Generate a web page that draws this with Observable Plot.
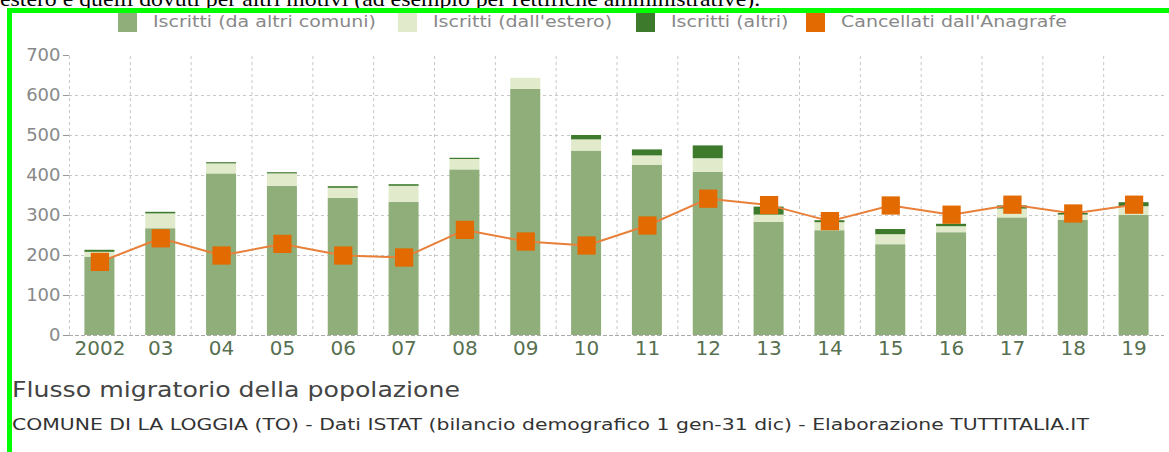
<!DOCTYPE html>
<html>
<head>
<meta charset="utf-8">
<script src="https://cdn.jsdelivr.net/npm/d3@7"></script>
<script src="https://cdn.jsdelivr.net/npm/@observablehq/plot@0.6"></script>
<style>
  html, body { margin: 0; padding: 0; background: #fff; }
  body { width: 1169px; height: 452px; overflow: hidden; position: relative; font-family: "DejaVu Sans", sans-serif; }
  #above { position: absolute; left: 0; top: -14px; font-family: "Liberation Serif", serif; font-size: 22px; color: #000; white-space: nowrap; transform: scaleX(1.08); transform-origin: left top; }
  #frame { position: absolute; left: 7px; top: 8px; width: 2000px; height: 1000px; border: 5px solid #00ff00; box-sizing: border-box; }
  #legend { position: absolute; top: 13px; left: 0; width: 1169px; height: 22px; }
  .item { position: absolute; top: 0; height: 20px; }
  .sw { position: absolute; left: 0; top: 0; width: 19px; height: 19px; }
  .lt { position: absolute; left: 35px; top: -1px; font-size: 16.5px; color: #888; white-space: nowrap; transform: scaleX(1.15); transform-origin: left center; }
  #chart { position: absolute; left: 0; top: 40px; }
  #title { position: absolute; left: 12px; top: 378px; font-size: 21px; color: #444; white-space: nowrap; transform: scaleX(1.2); transform-origin: left top; }
  #caption { position: absolute; left: 12px; top: 415px; font-size: 16.5px; color: #333; white-space: nowrap; transform: scaleX(1.235); transform-origin: left top; }
</style>
</head>
<body>
<div id="above">estero e quelli dovuti per altri motivi (ad esempio per rettifiche amministrative).</div>
<div id="frame"></div>
<div id="legend"></div>
<div id="chart"></div>
<div id="title">Flusso migratorio della popolazione</div>
<div id="caption">COMUNE DI LA LOGGIA (TO) - Dati ISTAT (bilancio demografico 1 gen-31 dic) - Elaborazione TUTTITALIA.IT</div>
<script>
// ---- data ----
const years = ["2002","03","04","05","06","07","08","09","10","11","12","13","14","15","16","17","18","19"];
const daAltriComuni = [196, 267, 404, 373, 343, 333, 414, 615, 461, 425, 408, 283, 262, 227, 257, 294, 288, 300];
const dallEstero    = [12, 37, 25, 31, 25, 40, 26, 28, 28, 24, 34, 18, 20, 25, 15, 22, 13, 22];
const altri         = [5, 4, 3, 3, 4, 4, 3, 0, 11, 15, 32, 20, 5, 13, 6, 8, 4, 10];
const cancellati    = [184, 243, 200, 229, 200, 195, 264, 235, 225, 275, 342, 326, 286, 325, 302, 327, 305, 327];
const seriesNames = ["Iscritti (da altri comuni)", "Iscritti (dall'estero)", "Iscritti (altri)", "Cancellati dall'Anagrafe"];
const seriesColors = ["#8fae7a", "#e1ebcc", "#3d7a2c", "#e36a00"];
const yTicks = [0, 100, 200, 300, 400, 500, 600, 700];

// ---- build table ----
const stacked = [];
years.forEach((y, i) => {
  stacked.push({year: y, series: seriesNames[0], value: daAltriComuni[i]});
  stacked.push({year: y, series: seriesNames[1], value: dallEstero[i]});
  stacked.push({year: y, series: seriesNames[2], value: altri[i]});
});
const canc = years.map((y, i) => ({year: y, value: cancellati[i]}));

// ---- legend ----
const legendLefts = [118, 398, 636, 806];
const legend = document.getElementById("legend");
seriesNames.forEach((name, i) => {
  const it = document.createElement("div");
  it.className = "item";
  it.style.left = legendLefts[i] + "px";
  it.innerHTML = `<span class="sw" style="background:${seriesColors[i]}"></span><span class="lt">${name}</span>`;
  legend.appendChild(it);
});

// ---- chart ----
const W = 1169, ML = 69, MR = 5;
const step = (W - ML - MR) / years.length;
const inset = (step - 30) / 2;

const chart = Plot.plot({
  width: W,
  height: 325,
  marginLeft: ML,
  marginRight: MR,
  marginTop: 15,
  marginBottom: 30,
  style: {fontFamily: "DejaVu Sans, sans-serif", background: "transparent", overflow: "visible"},
  x: {type: "band", domain: years, padding: 0, round: false, label: null},
  y: {domain: [0, 700], label: null},
  color: {domain: seriesNames, range: seriesColors},
  marks: [
    Plot.ruleY(yTicks.filter(d => d > 0 && d < 700), {stroke: "#c8c8c8", strokeDasharray: "3,3", strokeWidth: 1}),
    Plot.ruleX(years, {x: d => d, dx: -step / 2, y1: 0, y2: 700, stroke: "#c8c8c8", strokeDasharray: "3,3", strokeWidth: 1}),
    Plot.barY(stacked, {x: "year", y: "value", fill: "series", insetLeft: inset, insetRight: inset}),
    Plot.ruleY([0], {stroke: "#aaa", strokeDasharray: "4,2", strokeWidth: 1}),
    Plot.line(canc, {x: "year", y: "value", stroke: "#e8803a", strokeWidth: 2}),
    Plot.dot(canc, {x: "year", y: "value", symbol: "square", r: 10.3, fill: "#e36a00", stroke: "none"}),
    Plot.axisY(yTicks, {tickSize: 6, tickPadding: 3, stroke: "#999", fill: "#888", fontSize: 18, label: null}),
    Plot.axisX({tickSize: 0, tickPadding: 5, fill: "#567050", fontSize: 20, label: null})
  ]
});
document.getElementById("chart").appendChild(chart);
</script>
</body>
</html>
